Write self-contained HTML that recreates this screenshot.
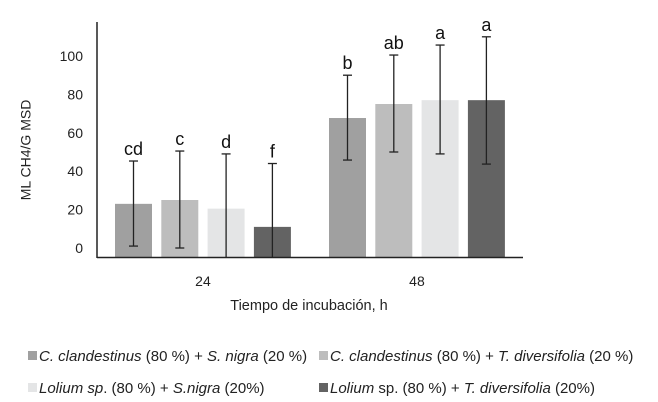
<!DOCTYPE html>
<html><head><meta charset="utf-8"><style>
body{margin:0;background:#fff;}
svg{display:block;font-family:"Liberation Sans",Arial,sans-serif;}
</style></head><body>
<svg id="chart" width="658" height="402" viewBox="0 0 658 402">
<g id="bars"></g>
<g id="errs"></g>
<g id="letters"></g>
<g id="yticks"></g>
<line x1="97" y1="22" x2="97" y2="258" stroke="#222" stroke-width="1.5"/>
<line x1="97" y1="257.5" x2="523" y2="257.5" stroke="#222" stroke-width="1.5"/>
<g id="xticks"></g>
<text x="27" y="150" transform="rotate(-90 27 150)" text-anchor="middle" dominant-baseline="middle" font-size="14" fill="#222">ML CH4/G MSD</text>
<text x="309" y="310" text-anchor="middle" font-size="14.5" fill="#222">Tiempo de incubación, h</text>
<g id="legend"></g>
</svg>
<script>
const categories = ["24", "48"];
const seriesNames = ["C. clandestinus (80 %) + S. nigra (20 %)", "C. clandestinus (80 %) + T. diversifolia (20 %)", "Lolium sp. (80 %) + S.nigra (20%)", "Lolium sp. (80 %) + T. diversifolia (20%)"];
const s1 = [23, 67.7];
const s2 = [25, 75];
const s3 = [20.5, 77];
const s4 = [11, 77];
const errHigh1 = [45.3, 90];
const errHigh2 = [50.5, 100.5];
const errHigh3 = [49, 105.7];
const errHigh4 = [44, 110];
const errLow1 = [1, 45.8];
const errLow2 = [0, 50];
const errLow3 = [-4.7, 49];
const errLow4 = [-4.7, 43.7];
const letters1 = ["cd", "b"];
const letters2 = ["c", "ab"];
const letters3 = ["d", "a"];
const letters4 = ["f", "a"];
const yTicks = [0, 20, 40, 60, 80, 100];

const series = [s1, s2, s3, s4];
const highs = [errHigh1, errHigh2, errHigh3, errHigh4];
const lows = [errLow1, errLow2, errLow3, errLow4];
const lets = [letters1, letters2, letters3, letters4];
const colors = ["#a0a0a0", "#bdbdbd", "#e4e5e6", "#636363"];
const NS = "http://www.w3.org/2000/svg";
function y(v){ return 248 - v * 1.92; }
function groupStart(i){ return 115 + i * 214; }
function barX(i, s){ return groupStart(i) + s * 46.3; }
const BW = 37, BASE = 257;
function mk(tag, attrs, parent){ const e = document.createElementNS(NS, tag); for (const k in attrs) e.setAttribute(k, attrs[k]); parent.appendChild(e); return e; }
const gb = document.getElementById('bars'), ge = document.getElementById('errs'), gl = document.getElementById('letters');
series.forEach((arr, s) => {
  arr.forEach((v, i) => {
    const r = mk('rect', {x: barX(i, s), y: y(v), width: BW, height: BASE - y(v), fill: colors[s]}, gb);
    
    
    const cx = barX(i, s) + BW / 2;
    const yt = y(highs[s][i]), yb = Math.min(BASE, y(lows[s][i]));
    const g = mk('g', {stroke: '#222', 'stroke-width': 1.3}, ge);
    
    
    mk('line', {x1: cx, y1: yt, x2: cx, y2: yb}, g);
    mk('line', {x1: cx - 4.5, y1: yt, x2: cx + 4.5, y2: yt}, g);
    if (y(lows[s][i]) < BASE - 1) mk('line', {x1: cx - 4.5, y1: yb, x2: cx + 4.5, y2: yb}, g);
    const t = mk('text', {x: cx, y: yt - 6, 'text-anchor': 'middle', 'font-size': 18, fill: '#111'}, gl);
    t.textContent = lets[s][i];
    
    
  });
});
const gy = document.getElementById('yticks');
yTicks.forEach(v => {
  const t = mk('text', {x: 83, y: y(v) + 5, 'text-anchor': 'end', 'font-size': 14, fill: '#222'}, gy);
  t.textContent = v;
  
  
});
const gx = document.getElementById('xticks');
categories.forEach((c, i) => {
  const t = mk('text', {x: groupStart(i) + (3 * 46.3 + BW) / 2, y: 286, 'text-anchor': 'middle', 'font-size': 14, fill: '#222'}, gx);
  t.textContent = c;
  
  
});
const leg = document.getElementById('legend');
const legParts = [
  [["C. clandestinus", true], [" (80 %) + ", false], ["S. nigra", true], [" (20 %)", false]],
  [["C. clandestinus", true], [" (80 %) + ", false], ["T. diversifolia", true], [" (20 %)", false]],
  [["Lolium sp", true], [". (80 %) + ", false], ["S.nigra", true], [" (20%)", false]],
  [["Lolium", true], [" sp. (80 %) + ", false], ["T. diversifolia", true], [" (20%)", false]]
];
const legPos = [[28, 356], [319, 356], [28, 388], [319, 388]];
legParts.forEach((parts, s) => {
  const g = mk('g', {}, leg);
  
  
  const [lx, ly] = legPos[s];
  mk('rect', {x: lx, y: ly - 5, width: 9, height: 9, fill: colors[s]}, g);
  const t = mk('text', {x: lx + 11, y: ly + 5, 'font-size': 15, fill: '#222'}, g);
  parts.forEach(([txt, it]) => {
    const sp = mk('tspan', it ? {'font-style': 'italic'} : {}, t);
    sp.textContent = txt;
  });
});
</script>
</body></html>
